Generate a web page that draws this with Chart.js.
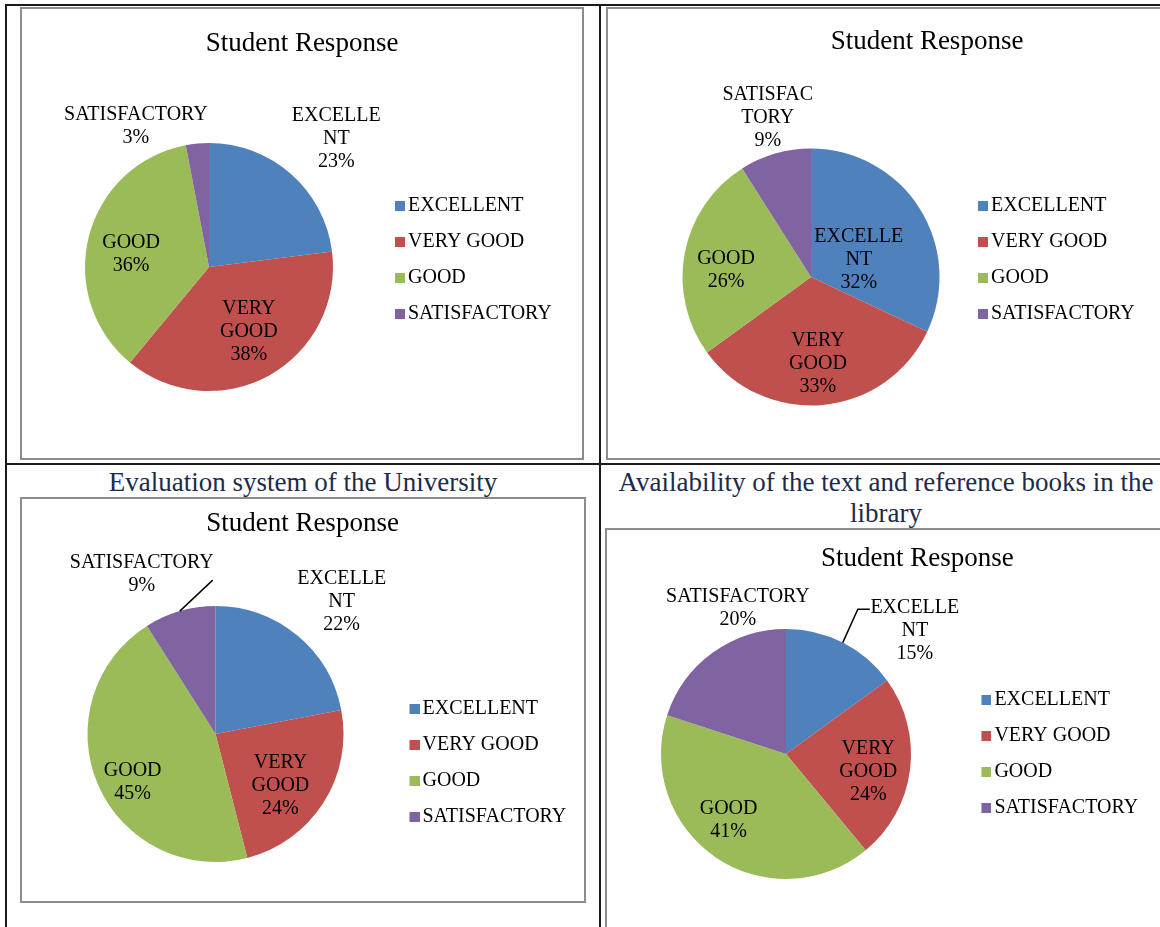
<!DOCTYPE html>
<html>
<head>
<meta charset="utf-8">
<script src="https://cdn.jsdelivr.net/npm/chart.js@4/dist/chart.umd.min.js"></script>
<style>
html,body{margin:0;padding:0;background:#fff;}
#page{position:relative;width:1160px;height:927px;overflow:hidden;background:#fff;}
.rule{position:absolute;background:#1a1a1a;}
.frame{position:absolute;border:2px solid #8c8c8c;box-sizing:border-box;pointer-events:none;}
canvas{position:absolute;}
.heading{position:absolute;font-family:"Liberation Serif","Times New Roman",serif;font-size:27px;color:#1d2b4b;text-align:center;line-height:31px;white-space:nowrap;}
</style>
</head>
<body>
<div id="page">
  <div class="rule" style="left:5px;top:4px;width:1155px;height:2px;"></div>
  <div class="rule" style="left:5px;top:4px;width:2px;height:923px;"></div>
  <div class="rule" style="left:599px;top:4px;width:2px;height:923px;"></div>
  <div class="rule" style="left:5px;top:463px;width:1155px;height:2px;"></div>

  <div class="heading" style="left:6px;top:467px;width:594px;">Evaluation system of the University</div>
  <div class="heading" style="left:600px;top:467px;width:572px;">Availability of the text and reference books in the<br>library</div>

  <canvas id="c1" width="563" height="452" style="left:20px;top:7px;"></canvas>
  <canvas id="c2" width="640" height="452" style="left:606px;top:7px;"></canvas>
  <canvas id="c3" width="565" height="405" style="left:20px;top:497px;"></canvas>
  <canvas id="c4" width="640" height="420" style="left:605px;top:528px;"></canvas>

  <div class="frame" style="left:20px;top:7px;width:564px;height:453px;"></div>
  <div class="frame" style="left:606px;top:7px;width:640px;height:453px;"></div>
  <div class="frame" style="left:20px;top:497px;width:566px;height:406px;"></div>
  <div class="frame" style="left:605px;top:528px;width:640px;height:420px;"></div>
</div>
<script>
// ---------- data ----------
const categories = ['EXCELLENT', 'VERY GOOD', 'GOOD', 'SATISFACTORY'];
const responseChart1 = [23, 38, 36, 3];
const responseChart2 = [32, 33, 26, 9];
const evaluationSystem = [22, 24, 45, 9];
const bookAvailability = [15, 24, 41, 20];
const chartTitle = 'Student Response';
const sliceColors = ['#4F81BD', '#C0504D', '#9BBB59', '#8064A2'];

// ---------- style constants ----------
const FONT = 'Liberation Serif';
const TITLE_SIZE = 27;
const LABEL_SIZE = 20;
const LABEL_LH = 23;
const LABEL_DY = 2;
const LEG_PAD = 16;
const LEG_B = 13;
const HALF = LABEL_SIZE / 2;

function swatch(color) {
  const wi = Math.round(LEG_B + 2 * HALF - 6);
  const c = document.createElement('canvas');
  c.width = wi; c.height = 10;
  const g = c.getContext('2d');
  g.fillStyle = color;
  g.fillRect(wi - 10, 0, 10, 10);
  return c;
}
const swatches = sliceColors.map(swatch);

const measureCtx = document.createElement('canvas').getContext('2d');
measureCtx.font = 'normal ' + LABEL_SIZE + 'px ' + FONT;
const legendTextW = Math.max(...categories.map(t => measureCtx.measureText(t).width));

const sliceLabels = {
  id: 'sliceLabels',
  afterDatasetsDraw(chart, args, opts) {
    const ctx = chart.ctx;
    const meta = chart.getDatasetMeta(0);
    const values = chart.data.datasets[0].data;
    ctx.save();
    ctx.font = LABEL_SIZE + 'px "' + FONT + '"';
    ctx.fillStyle = '#000';
    ctx.textAlign = 'center';
    ctx.textBaseline = 'middle';
    meta.data.forEach((arc, i) => {
      const p = opts.place[i];
      const a = arc.getProps(['x', 'y', 'startAngle', 'endAngle', 'outerRadius'], true);
      const mid = (a.startAngle + a.endAngle) / 2;
      const ang = mid + p.da * Math.PI / 180;
      const lx = a.x + Math.cos(ang) * a.outerRadius * p.k;
      const ly = a.y + Math.sin(ang) * a.outerRadius * p.k;
      const lines = p.lines.concat([values[i] + '%']);
      lines.forEach((t, j) => {
        ctx.fillText(t, lx, ly + LABEL_DY + (j - (lines.length - 1) / 2) * LABEL_LH);
      });
      if (p.leader) {
        ctx.beginPath();
        ctx.strokeStyle = '#000';
        ctx.lineWidth = 1.5;
        ctx.moveTo(a.x + Math.cos(mid) * a.outerRadius, a.y + Math.sin(mid) * a.outerRadius);
        p.leader.forEach(pt => ctx.lineTo(lx + pt[0], ly + pt[1]));
        ctx.stroke();
      }
    });
    ctx.restore();
  }
};

// s: page-space layout spec of one chart panel
function makeChart(id, values, s, place) {
  const LH = TITLE_SIZE * 1.2;
  const top = s.cy - s.r, bottom = s.cy + s.r;
  const tpTop = (s.titleY - s.top) - LH / 2;
  const tpBottom = (top - s.top) - tpTop - LH;
  const padB = (s.top + s.H) - bottom;
  const lth = s.legendY - top - LEG_PAD - HALF;

  const L = s.squareLeft - LEG_PAD - LEG_B - HALF + 13;
  const legW = LEG_PAD + LEG_B + HALF + legendTextW + 10;
  const spacer = legW - 2 * (s.titleX - s.cx);
  let T1, T2;
  if (spacer >= 0) {
    T2 = L + legW;
    T1 = 2 * s.titleX - T2;
  } else {
    T1 = 2 * s.cx - L;
    T2 = 2 * s.titleX - T1;
  }
  const padL = T1 - s.left;
  const padR = (s.left + s.W) - T2;
  const sp = Math.abs(spacer);

  return new Chart(document.getElementById(id), {
    type: 'pie',
    data: {
      labels: categories,
      datasets: [{
        data: values,
        backgroundColor: sliceColors,
        borderWidth: 0,
        hoverOffset: 0,
        offset: 0
      }]
    },
    options: {
      responsive: false,
      animation: false,
      events: [],
      layout: { padding: { top: 0, left: padL, right: padR, bottom: padB } },
      scales: {
        gap: {
          type: 'linear',
          axis: 'y',
          position: spacer >= 0 ? 'left' : 'right',
          weight: spacer >= 0 ? 0 : 5000,
          display: false,
          afterFit(scale) { scale.width = sp; }
        }
      },
      plugins: {
        title: {
          display: true,
          text: chartTitle,
          color: '#000',
          font: { family: FONT, size: TITLE_SIZE, weight: 'normal', lineHeight: 1.2 },
          padding: { top: tpTop, bottom: tpBottom }
        },
        legend: {
          display: true,
          position: 'right',
          align: 'start',
          fullSize: false,
          title: { display: true, text: '', font: { size: 1, lineHeight: 1 }, padding: { top: lth - 1, bottom: 0 } },
          labels: {
            color: '#000',
            font: { family: FONT, size: LABEL_SIZE, weight: 'normal' },
            padding: LEG_PAD,
            usePointStyle: true,
            pointStyleWidth: LEG_B,
            boxHeight: 10,
            generateLabels(chart) {
              return chart.data.labels.map((t, i) => ({
                text: t,
                fillStyle: sliceColors[i],
                strokeStyle: sliceColors[i],
                lineWidth: 0,
                pointStyle: swatches[i],
                fontColor: '#000',
                hidden: false,
                index: i
              }));
            }
          }
        },
        tooltip: { enabled: false },
        sliceLabels: { place }
      }
    },
    plugins: [sliceLabels]
  });
}

makeChart('c1', responseChart1,
  { left: 20, top: 7, W: 563, H: 452, cx: 209, cy: 267, r: 124, titleX: 302, titleY: 44, squareLeft: 395, legendY: 206 },
  [
    { k: 1.47, da: 2.9, lines: ['EXCELLE', 'NT'] },
    { k: 0.60, da: -3.6, lines: ['VERY', 'GOOD'] },
    { k: 0.64, da: -3.5, lines: ['GOOD'] },
    { k: 1.29, da: -21.8, lines: ['SATISFACTORY'] }
  ]);

makeChart('c2', responseChart2,
  { left: 606, top: 7, W: 640, H: 452, cx: 811, cy: 277, r: 128.5, titleX: 927, titleY: 42, squareLeft: 978, legendY: 206 },
  [
    { k: 0.40, da: 10.8, lines: ['EXCELLE', 'NT'] },
    { k: 0.66, da: 0.7, lines: ['VERY', 'GOOD'] },
    { k: 0.665, da: -4.8, lines: ['GOOD'] },
    { k: 1.30, da: 1.2, lines: ['SATISFAC', 'TORY'] }
  ]);

makeChart('c3', evaluationSystem,
  { left: 20, top: 497, W: 565, H: 405, cx: 215.5, cy: 734, r: 128, titleX: 302.5, titleY: 524, squareLeft: 409.5, legendY: 709 },
  [
    { k: 1.44, da: 3.6, lines: ['EXCELLE', 'NT'] },
    { k: 0.64, da: 5.2, lines: ['VERY', 'GOOD'] },
    { k: 0.74, da: -5.6, lines: ['GOOD'] },
    { k: 1.39, da: -8.3, lines: ['SATISFACTORY'], leader: [[71, 8]] }
  ]);

makeChart('c4', bookAvailability,
  { left: 605, top: 528, W: 640, H: 420, cx: 786, cy: 754, r: 125, titleX: 917.3, titleY: 559, squareLeft: 981.4, legendY: 700 },
  [
    { k: 1.44, da: 18.7, lines: ['EXCELLE', 'NT'], leader: [[-57, -19], [-45, -19]] },
    { k: 0.67, da: 3.8, lines: ['VERY', 'GOOD'] },
    { k: 0.69, da: 7.5, lines: ['GOOD'] },
    { k: 1.245, da: 18, lines: ['SATISFACTORY'] }
  ]);
</script>
</body>
</html>
